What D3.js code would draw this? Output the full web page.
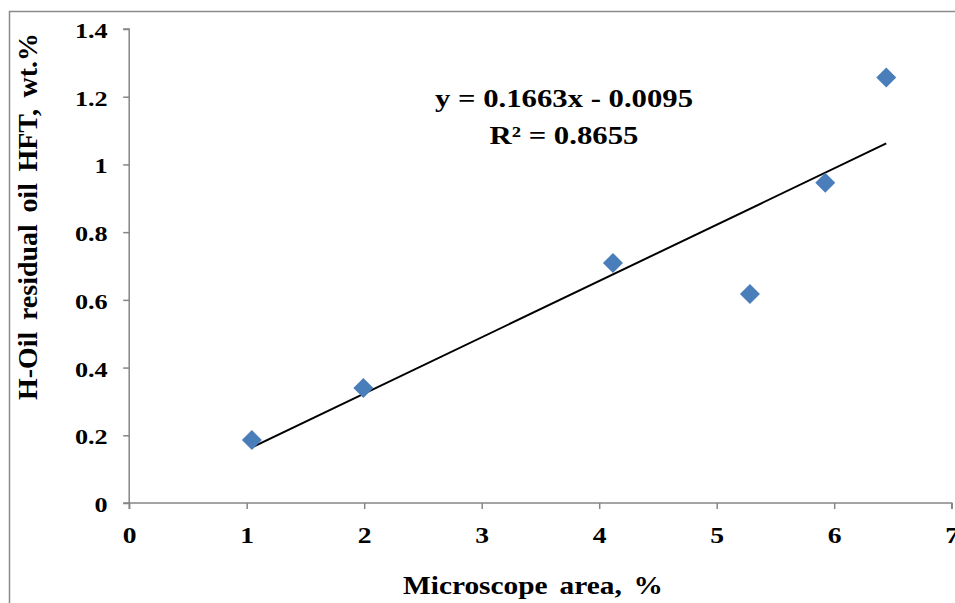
<!DOCTYPE html>
<html><head><meta charset="utf-8">
<script src="https://cdn.jsdelivr.net/npm/d3@7"></script>
<style>body{margin:0;background:#fff;}svg{display:block;}</style>
</head><body>
<svg id="c" width="955" height="603"></svg>
<script>
const xValues = [1.044, 1.993, 4.117, 5.283, 5.924, 6.443];
const yValues = [0.186, 0.340, 0.709, 0.617, 0.946, 1.257];
const xTicks = [0, 1, 2, 3, 4, 5, 6, 7];
const yTicks = [0, 0.2, 0.4, 0.6, 0.8, 1, 1.2, 1.4];
const slope = 0.1663, intercept = -0.0095;
const eqLines = ["y = 0.1663x - 0.0095", "R² = 0.8655"];
const xTitle = "Microscope area, %";
const yTitle = "H-Oil residual oil HFT, wt.%";

const svg = d3.select("#c");
const font = "'Liberation Serif','Times New Roman',serif";
const axisColor = "#868686";

svg.append("rect").attr("x", 9.5).attr("y", 11.5).attr("width", 1000).attr("height", 1000)
  .attr("fill", "none").attr("stroke", "#8a8a8a").attr("stroke-width", 1.5);

const x = d3.scaleLinear().domain([0, 7]).range([129.2, 951.7]);
const y = d3.scaleLinear().domain([0, 1.4]).range([503, 29]);

const xa = svg.append("g").attr("transform", `translate(0,${y(0)})`)
  .call(d3.axisBottom(x).tickValues(xTicks).tickSize(6).tickFormat(d3.format("d")));
const ya = svg.append("g").attr("transform", `translate(${x(0)},0)`)
  .call(d3.axisLeft(y).tickValues(yTicks).tickSize(6).tickFormat(d => String(+d.toFixed(1))));
[xa, ya].forEach(g => {
  g.select(".domain").attr("stroke", axisColor).attr("stroke-width", 1.5);
  g.selectAll(".tick line").attr("stroke", axisColor).attr("stroke-width", 1.5);
  g.selectAll("text").attr("font-family", font).attr("font-weight", "bold").attr("fill", "#000");
});
xa.selectAll(".tick text").attr("font-size", 23).attr("y", 0).attr("dy", null)
  .attr("transform", "translate(0,39.5) scale(1.2,1)");
ya.selectAll(".tick text").attr("font-size", 22).attr("x", 0).attr("dy", null)
  .attr("transform", "translate(-21.5,8.5) scale(1.19,1)");
xa.select(".domain").attr("d", `M${x(0)},6V0H${x(7)}V6`);
ya.select(".domain").attr("d", `M-6,${y(1.4)}H0V${y(0)}H-6`);

// trendline
const x0 = d3.min(xValues), x1 = d3.max(xValues);
svg.append("line")
  .attr("x1", x(x0)).attr("y1", y(slope * x0 + intercept))
  .attr("x2", x(x1)).attr("y2", y(slope * x1 + intercept))
  .attr("stroke", "#000").attr("stroke-width", 2);

// markers
const sym = d3.symbol().type(d3.symbolSquare).size(200);
svg.append("g").selectAll("path").data(xValues.map((v, i) => [v, yValues[i]])).join("path")
  .attr("d", sym)
  .attr("transform", d => `translate(${x(d[0])},${y(d[1])}) rotate(45)`)
  .attr("fill", "#4a7ebb");

// equation
const eqWidths = [258, 149];
svg.append("g").selectAll("text").data(eqLines).join("text")
  .attr("x", 564).attr("y", (d, i) => 107 + i * 36.5)
  .attr("text-anchor", "middle").attr("font-family", font).attr("font-weight", "bold")
  .attr("font-size", 25).attr("textLength", (d, i) => eqWidths[i]).attr("lengthAdjust", "spacingAndGlyphs")
  .text(d => d);

// axis titles
svg.append("text").attr("x", 533).attr("y", 594).attr("text-anchor", "middle")
  .attr("font-family", font).attr("font-weight", "bold").attr("font-size", 26)
  .attr("word-spacing", 4).attr("textLength", 260).attr("lengthAdjust", "spacingAndGlyphs").text(xTitle);
svg.append("text").attr("transform", "translate(36.5,216.5) rotate(-90) scale(1,1.1)").attr("text-anchor", "middle")
  .attr("font-family", font).attr("font-weight", "bold").attr("font-size", 24)
  .attr("word-spacing", 4).attr("textLength", 367).attr("lengthAdjust", "spacingAndGlyphs").text(yTitle);
</script>
</body></html>
